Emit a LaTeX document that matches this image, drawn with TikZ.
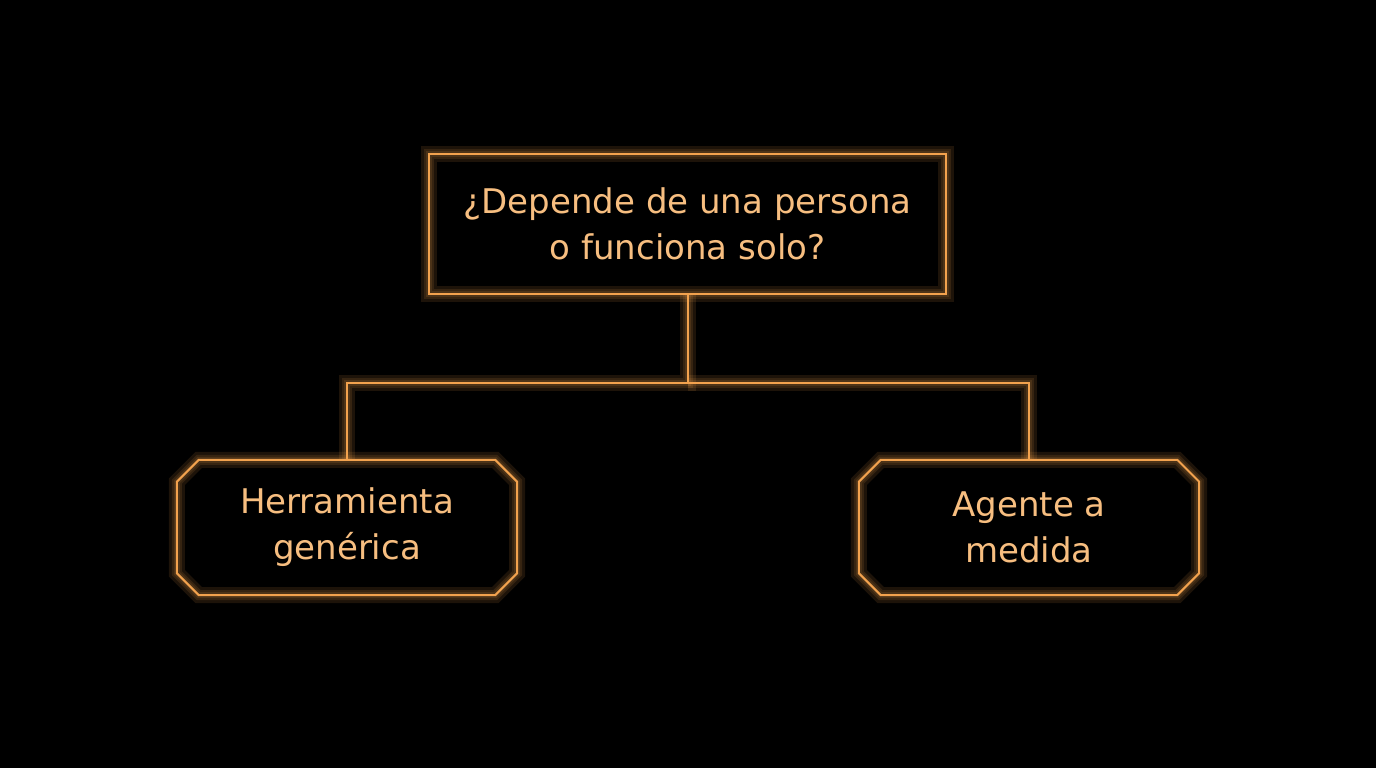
\documentclass[tikz,border=0pt]{standalone}
\usepackage{fontspec}
\setmainfont{DejaVu Sans}
\definecolor{ln}{HTML}{F2A24E}
\definecolor{tx}{HTML}{F7BE80}
\begin{document}
\begin{tikzpicture}[x=1pt,y=1pt,
 glow/.style={ln, line width=#1, opacity=0.12},
 txt/.style={text=tx, align=center, font=\fontsize{34}{46}\selectfont, inner sep=0pt},
 box/.style={txt, minimum width=517pt, minimum height=140pt},
 oct/.style={txt, minimum width=340pt, minimum height=135pt},
 wire/.style={ln, line width=2pt}]
\fill[black] (0,0) rectangle (1376,768);
\useasboundingbox (0,0) rectangle (1376,768);
\node[box] (q) at (687.5,544) {¿Depende de una persona\\o funciona solo?};
\node[oct] (l) at (347,240.5) {Herramienta\\genérica};
\node[oct] (r) at (1029,240.5) {Agente a\\medida};
\coordinate (m) at (687.5,385);
\def\octo#1#2{\draw[#2] ([xshift=22pt]#1.north west) -- ([xshift=-22pt]#1.north east) -- ([yshift=-22pt]#1.north east) -- ([yshift=22pt]#1.south east) -- ([xshift=-22pt]#1.south east) -- ([xshift=22pt]#1.south west) -- ([yshift=22pt]#1.south west) -- ([yshift=-22pt]#1.north west) -- cycle;}
\foreach \w in {16,10,6}{
 \draw[glow=\w pt] (q.south west) rectangle (q.north east);
 \octo{l}{glow=\w pt}
 \octo{r}{glow=\w pt}
 \draw[glow=\w pt] (q.south) -- (m) -| (l.north);
 \draw[glow=\w pt] (m) -| (r.north);
}
\draw[wire] (q.south) -- (m) -| (l.north);
\draw[wire] (m) -| (r.north);
\draw[wire] (q.south west) rectangle (q.north east);
\octo{l}{wire}
\octo{r}{wire}
\end{tikzpicture}
\end{document}
